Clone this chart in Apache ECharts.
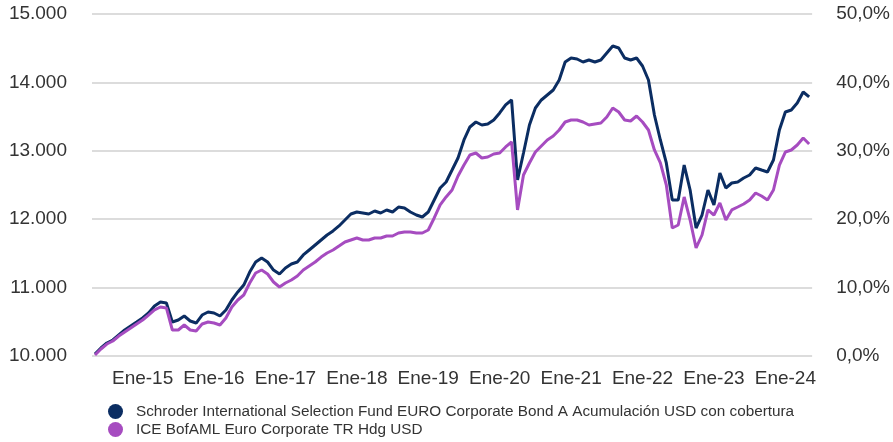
<!DOCTYPE html>
<html>
<head>
<meta charset="utf-8">
<script src="https://cdn.jsdelivr.net/npm/echarts@6/dist/echarts.min.js"></script>
<style>
  html, body { margin: 0; padding: 0; background: #fff; }
  #main { width: 893px; height: 442px; }
</style>
</head>
<body>
<div id="main"></div>
<script>
// meses (primer punto: mayo 2014, ultimo: mayo 2024)
var mesesNombre = ['Ene','Feb','Mar','Abr','May','Jun','Jul','Ago','Sep','Oct','Nov','Dic'];
var primerMes = 4, primerAnio = 2014, numMeses = 121;

// Schroder ISF EURO Corporate Bond A Acc USD Hedged (base 10.000)
var fondo = [
  10029,10117,10190,10234,10307,10380,10439,10497,10556,10629,10731,10789,
  10775,10497,10526,10585,10512,10482,10599,10643,10629,10585,10673,10819,
  10936,11038,11228,11374,11433,11374,11257,11199,11287,11345,11374,11477,
  11550,11623,11696,11769,11828,11901,11988,12076,12105,12091,12076,12120,
  12091,12135,12105,12178,12164,12105,12061,12032,12105,12281,12456,12544,
  12719,12895,13158,13348,13421,13377,13392,13450,13553,13670,13743,12573,
  12968,13377,13626,13743,13816,13889,14035,14298,14357,14342,14298,14328,
  14298,14328,14430,14532,14503,14357,14328,14357,14240,14035,13523,13158,
  12822,12281,12281,12792,12427,11871,12061,12427,12208,12675,12456,12529,
  12544,12602,12646,12749,12719,12690,12866,13304,13567,13597,13699,13860,
  13787
];

// ICE BofAML Euro Corporate TR Hdg USD
var indice = [
  10015,10102,10175,10219,10292,10351,10409,10468,10526,10599,10673,10716,
  10702,10380,10380,10453,10380,10366,10468,10497,10482,10453,10556,10716,
  10819,10892,11067,11213,11257,11199,11082,11009,11067,11111,11170,11257,
  11316,11374,11447,11506,11550,11608,11667,11696,11725,11696,11696,11725,
  11725,11754,11754,11798,11813,11813,11798,11798,11842,12018,12208,12325,
  12427,12632,12792,12939,12968,12895,12909,12953,12968,13056,13129,12135,
  12646,12822,12982,13070,13158,13216,13304,13421,13450,13450,13421,13377,
  13392,13406,13494,13626,13567,13450,13436,13509,13421,13304,13012,12822,
  12500,11871,11915,12325,11988,11579,11769,12135,12061,12237,11988,12135,
  12178,12222,12281,12383,12339,12281,12427,12792,12982,13012,13085,13187,
  13099
];

var nombres = [
  'Schroder International Selection Fund EURO Corporate Bond A Acumulación USD con cobertura',
  'ICE BofAML Euro Corporate TR Hdg USD'
];
var colores = ['#0b2d62', '#a64cc0'];

var meses = [];
for (var i = 0; i < numMeses; i++) {
  var mm = (primerMes + i) % 12;
  var aa = primerAnio + Math.floor((primerMes + i) / 12);
  meses.push(mesesNombre[mm] + '-' + String(aa).slice(2));
}

var fuente = 'Liberation Sans, Arial, sans-serif';
var myChart = echarts.init(document.getElementById('main'));

var option = {
  animation: false,
  color: colores,
  grid: { left: 92, right: 80, top: 14, bottom: 86 },
  legend: {
    orient: 'vertical',
    left: 108, top: 404, height: 40,
    padding: 0,
    icon: 'circle',
    itemWidth: 15, itemHeight: 15, itemGap: 3,
    textStyle: { fontFamily: fuente, fontSize: 15.3, color: '#333', padding: [0, 0, 0, 8] },
    data: nombres
  },
  xAxis: {
    type: 'category',
    data: meses,
    boundaryGap: true,
    axisLine: { show: false },
    axisTick: { show: false },
    axisLabel: {
      interval: function (i, v) { return v.indexOf('Ene') === 0; },
      fontFamily: fuente, fontSize: 19, color: '#333', margin: 13
    }
  },
  yAxis: [{
    type: 'value',
    min: 10000, max: 15000, interval: 1000,
    axisLabel: {
      fontFamily: fuente, fontSize: 19, color: '#333', margin: 25,
      formatter: function (v) { return (v / 1000).toFixed(3); }
    },
    splitLine: { lineStyle: { color: '#dcdcdc', width: 2 } }
  }, {
    type: 'value',
    min: 0, max: 50, interval: 10,
    position: 'right',
    axisLabel: {
      fontFamily: fuente, fontSize: 19, color: '#333', margin: 24,
      formatter: function (v) { return v.toFixed(1).replace('.', ',') + '%'; }
    },
    splitLine: { show: false }
  }],
  series: [{
    name: nombres[0], type: 'line', data: fondo,
    showSymbol: false, lineStyle: { width: 3 }
  }, {
    name: nombres[1], type: 'line', data: indice,
    showSymbol: false, lineStyle: { width: 3 }
  }]
};

myChart.setOption(option);
</script>
</body>
</html>
